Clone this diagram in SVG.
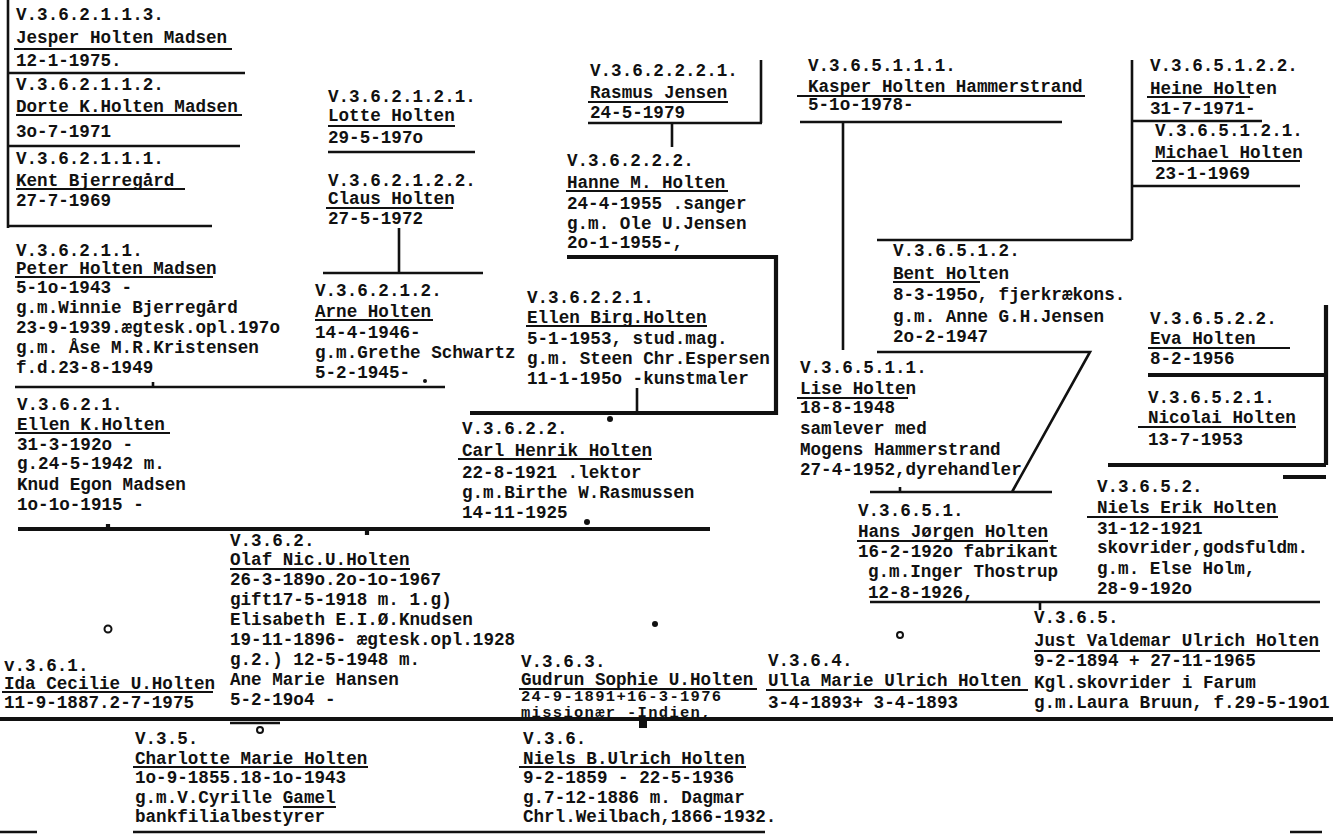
<svg xmlns="http://www.w3.org/2000/svg" width="1333" height="836" viewBox="0 0 1333 836">
<style>
.t{font-family:"Liberation Mono","DejaVu Sans Mono",monospace;font-weight:bold;font-size:17.6px;fill:#111}
.s{font-size:15.5px;letter-spacing:1.3px}
.u{stroke:#111;stroke-width:2.2;fill:none}
.l{stroke:#111;stroke-width:2.6;fill:none}
.k{stroke:#111;stroke-width:4.2;fill:none}
.d{fill:#111}
.o{fill:none;stroke:#111;stroke-width:2}
</style>
<rect width="1333" height="836" fill="#fff"/>
<g id="connectors">
<path class="l" d="M8 0V228M8 73H245M8 146H240M8 226H212"/>
<path class="l" d="M328 152H475M399 228V273M323 273H483"/>
<path class="l" d="M15 387H445M153 382V387"/>
<path class="l" d="M588 123H762M761 60V123M672 123V147"/>
<path class="k" d="M567 257H776V413H470"/>
<path class="l" d="M637 388V413"/>
<path class="k" d="M18 529H710M108 524V529M367 529V535"/>
<path class="k" d="M0 719H1333"/>
<path class="l" d="M230 723H280"/>
<path class="l" d="M133 832H765M0 832H37M1290 832H1322"/>
<path class="l" d="M800 122H1062M843 122V350"/>
<path class="l" d="M1132 60V240M1132 121H1262M1132 186H1300M877 240H1132"/>
<path class="l" d="M877 352H1090L1012 492M870 492H1052M900 487V492"/>
<path class="l" d="M870 602H1320M1040 602V610"/>
<path class="k" d="M1148 375H1326M1326 305V465M1108 465H1326M1283 477H1326"/>
<circle class="d" cx="610" cy="419" r="3"/>
<circle class="d" cx="587" cy="522" r="3"/>
<circle class="d" cx="425" cy="381" r="2"/>
<circle class="d" cx="655" cy="624" r="3"/>
<rect class="d" x="639" y="721" width="8" height="7"/>
<circle class="o" cx="108" cy="629" r="3.5"/>
<circle class="o" cx="900" cy="635" r="3"/>
<circle class="o" cx="260" cy="730" r="3"/>
</g>
<g id="n_jesper">
<text class="t" x="16" y="20">V.3.6.2.1.1.3.</text>
<text class="t" x="16" y="43">Jesper Holten Madsen</text>
<path class="u" d="M14 49H232"/>
<text class="t" x="16" y="66">12-1-1975.</text>
</g>
<g id="n_dorte">
<text class="t" x="16" y="90">V.3.6.2.1.1.2.</text>
<text class="t" x="16" y="112">Dorte K.Holten Madsen</text>
<path class="u" d="M16 115H242"/>
<text class="t" x="16" y="137">3o-7-1971</text>
</g>
<g id="n_kent">
<text class="t" x="16" y="164">V.3.6.2.1.1.1.</text>
<text class="t" x="16" y="186">Kent Bjerregård</text>
<path class="u" d="M16 189H185"/>
<text class="t" x="16" y="206">27-7-1969</text>
</g>
<g id="n_lotte">
<text class="t" x="328" y="102">V.3.6.2.1.2.1.</text>
<text class="t" x="328" y="121">Lotte Holten</text>
<path class="u" d="M328 126H455"/>
<text class="t" x="328" y="143">29-5-197o</text>
</g>
<g id="n_claus">
<text class="t" x="328" y="186">V.3.6.2.1.2.2.</text>
<text class="t" x="328" y="204">Claus Holten</text>
<path class="u" d="M326 208H453"/>
<text class="t" x="328" y="224">27-5-1972</text>
</g>
<g id="n_peter">
<text class="t" x="16" y="256">V.3.6.2.1.1.</text>
<text class="t" x="16" y="274">Peter Holten Madsen</text>
<path class="u" d="M15 277H213"/>
<text class="t" x="16" y="293">5-1o-1943 -</text>
<text class="t" x="16" y="313">g.m.Winnie Bjerregård</text>
<text class="t" x="16" y="333">23-9-1939.ægtesk.opl.197o</text>
<text class="t" x="16" y="353">g.m. Åse M.R.Kristensen</text>
<text class="t" x="16" y="373">f.d.23-8-1949</text>
</g>
<g id="n_arne">
<text class="t" x="315" y="296">V.3.6.2.1.2.</text>
<text class="t" x="315" y="317">Arne Holten</text>
<path class="u" d="M315 320H433"/>
<text class="t" x="315" y="338">14-4-1946-</text>
<text class="t" x="315" y="358">g.m.Grethe Schwartz</text>
<text class="t" x="315" y="378">5-2-1945-</text>
</g>
<g id="n_rasmus">
<text class="t" x="590" y="76">V.3.6.2.2.2.1.</text>
<text class="t" x="590" y="98">Rasmus Jensen</text>
<path class="u" d="M588 102H728"/>
<text class="t" x="590" y="118">24-5-1979</text>
</g>
<g id="n_hanne">
<text class="t" x="567" y="166">V.3.6.2.2.2.</text>
<text class="t" x="567" y="188">Hanne M. Holten</text>
<path class="u" d="M566 191H728"/>
<text class="t" x="567" y="209">24-4-1955 .sanger</text>
<text class="t" x="567" y="229">g.m. Ole U.Jensen</text>
<text class="t" x="567" y="248">2o-1-1955-,</text>
</g>
<g id="n_ellenbirg">
<text class="t" x="527" y="303">V.3.6.2.2.1.</text>
<text class="t" x="527" y="323">Ellen Birg.Holten</text>
<path class="u" d="M526 326H707"/>
<text class="t" x="527" y="344">5-1-1953, stud.mag.</text>
<text class="t" x="527" y="364">g.m. Steen Chr.Espersen</text>
<text class="t" x="527" y="384">11-1-195o -kunstmaler</text>
</g>
<g id="n_carl">
<text class="t" x="462" y="434">V.3.6.2.2.</text>
<text class="t" x="462" y="456">Carl Henrik Holten</text>
<path class="u" d="M458 459H652"/>
<text class="t" x="462" y="478">22-8-1921 .lektor</text>
<text class="t" x="462" y="498">g.m.Birthe W.Rasmussen</text>
<text class="t" x="462" y="518">14-11-1925</text>
</g>
<g id="n_ellenk">
<text class="t" x="17" y="410">V.3.6.2.1.</text>
<text class="t" x="17" y="430">Ellen K.Holten</text>
<path class="u" d="M15 433H170"/>
<text class="t" x="17" y="450">31-3-192o -</text>
<text class="t" x="17" y="469">g.24-5-1942 m.</text>
<text class="t" x="17" y="490">Knud Egon Madsen</text>
<text class="t" x="17" y="510">1o-1o-1915 -</text>
</g>
<g id="n_olaf">
<text class="t" x="230" y="546">V.3.6.2.</text>
<text class="t" x="230" y="565">Olaf Nic.U.Holten</text>
<path class="u" d="M230 569H410"/>
<text class="t" x="230" y="585">26-3-189o.2o-1o-1967</text>
<text class="t" x="230" y="605">gift17-5-1918 m. 1.g)</text>
<text class="t" x="230" y="625">Elisabeth E.I.Ø.Knudsen</text>
<text class="t" x="230" y="645">19-11-1896- ægtesk.opl.1928</text>
<text class="t" x="230" y="665">g.2.) 12-5-1948 m.</text>
<text class="t" x="230" y="685">Ane Marie Hansen</text>
<text class="t" x="230" y="705">5-2-19o4 -</text>
</g>
<g id="n_ida">
<text class="t" x="4" y="671">v.3.6.1.</text>
<text class="t" x="4" y="689">Ida Cecilie U.Holten</text>
<path class="u" d="M2 692H213"/>
<text class="t" x="4" y="708">11-9-1887.2-7-1975</text>
</g>
<g id="n_gudrun">
<text class="t" x="521" y="667">V.3.6.3.</text>
<text class="t" x="521" y="685">Gudrun Sophie U.Holten</text>
<path class="u" d="M519 689H757"/>
<text class="t s" x="521" y="701">24-9-1891+16-3-1976</text>
<text class="t s" x="521" y="717">missionær -Indien,</text>
</g>
<g id="n_ulla">
<text class="t" x="768" y="666">V.3.6.4.</text>
<text class="t" x="768" y="686">Ulla Marie Ulrich Holten</text>
<path class="u" d="M766 690H1028"/>
<text class="t" x="768" y="708">3-4-1893+ 3-4-1893</text>
</g>
<g id="n_just">
<text class="t" x="1034" y="623">V.3.6.5.</text>
<text class="t" x="1034" y="646">Just Valdemar Ulrich Holten</text>
<path class="u" d="M1034 651H1320"/>
<text class="t" x="1034" y="666">9-2-1894 + 27-11-1965</text>
<text class="t" x="1034" y="688">Kgl.skovrider i Farum</text>
<text class="t" x="1034" y="708">g.m.Laura Bruun, f.29-5-19o1</text>
</g>
<g id="n_kasper">
<text class="t" x="808" y="71">V.3.6.5.1.1.1.</text>
<text class="t" x="808" y="92">Kasper Holten Hammerstrand</text>
<path class="u" d="M797 96H1085"/>
<text class="t" x="808" y="110">5-1o-1978-</text>
</g>
<g id="n_heine">
<text class="t" x="1150" y="71">V.3.6.5.1.2.2.</text>
<text class="t" x="1150" y="94">Heine Holten</text>
<path class="u" d="M1147 97H1250"/>
<text class="t" x="1150" y="114">31-7-1971-</text>
</g>
<g id="n_michael">
<text class="t" x="1155" y="136">V.3.6.5.1.2.1.</text>
<text class="t" x="1155" y="158">Michael Holten</text>
<path class="u" d="M1152 161H1300"/>
<text class="t" x="1155" y="179">23-1-1969</text>
</g>
<g id="n_bent">
<text class="t" x="893" y="256">V.3.6.5.1.2.</text>
<text class="t" x="893" y="279">Bent Holten</text>
<path class="u" d="M893 282H980"/>
<text class="t" x="893" y="300">8-3-195o, fjerkrækons.</text>
<text class="t" x="893" y="322">g.m. Anne G.H.Jensen</text>
<text class="t" x="893" y="342">2o-2-1947</text>
</g>
<g id="n_lise">
<text class="t" x="800" y="373">V.3.6.5.1.1.</text>
<text class="t" x="800" y="394">Lise Holten</text>
<path class="u" d="M797 398H908"/>
<text class="t" x="800" y="413">18-8-1948</text>
<text class="t" x="800" y="434">samlever med</text>
<text class="t" x="800" y="455">Mogens Hammerstrand</text>
<text class="t" x="800" y="475">27-4-1952,dyrehandler</text>
</g>
<g id="n_hans">
<text class="t" x="858" y="516">V.3.6.5.1.</text>
<text class="t" x="858" y="537">Hans Jørgen Holten</text>
<path class="u" d="M857 541H1048"/>
<text class="t" x="858" y="557">16-2-192o fabrikant</text>
<text class="t" x="868" y="577">g.m.Inger Thostrup</text>
<text class="t" x="868" y="598">12-8-1926,</text>
</g>
<g id="n_eva">
<text class="t" x="1150" y="324">V.3.6.5.2.2.</text>
<text class="t" x="1150" y="344">Eva Holten</text>
<path class="u" d="M1148 348H1290"/>
<text class="t" x="1150" y="364">8-2-1956</text>
</g>
<g id="n_nicolai">
<text class="t" x="1148" y="403">V.3.6.5.2.1.</text>
<text class="t" x="1148" y="423">Nicolai Holten</text>
<path class="u" d="M1138 427H1296"/>
<text class="t" x="1148" y="445">13-7-1953</text>
</g>
<g id="n_nielserik">
<text class="t" x="1097" y="492">V.3.6.5.2.</text>
<text class="t" x="1097" y="513">Niels Erik Holten</text>
<path class="u" d="M1087 517H1278"/>
<text class="t" x="1097" y="534">31-12-1921</text>
<text class="t" x="1097" y="553">skovrider,godsfuldm.</text>
<text class="t" x="1097" y="574">g.m. Else Holm,</text>
<text class="t" x="1097" y="594">28-9-192o</text>
</g>
<g id="n_charlotte">
<text class="t" x="135" y="744">V.3.5.</text>
<text class="t" x="135" y="764">Charlotte Marie Holten</text>
<path class="u" d="M133 767H368"/>
<text class="t" x="135" y="783">1o-9-1855.18-1o-1943</text>
<text class="t" x="135" y="803">g.m.V.Cyrille Gamel</text>
<path class="u" d="M283 807H336"/>
<text class="t" x="135" y="822">bankfilialbestyrer</text>
</g>
<g id="n_niels">
<text class="t" x="523" y="744">V.3.6.</text>
<text class="t" x="523" y="764">Niels B.Ulrich Holten</text>
<path class="u" d="M519 767H746"/>
<text class="t" x="523" y="783">9-2-1859 - 22-5-1936</text>
<text class="t" x="523" y="803">g.7-12-1886 m. Dagmar</text>
<text class="t" x="523" y="822">Chrl.Weilbach,1866-1932.</text>
</g>
</svg>
